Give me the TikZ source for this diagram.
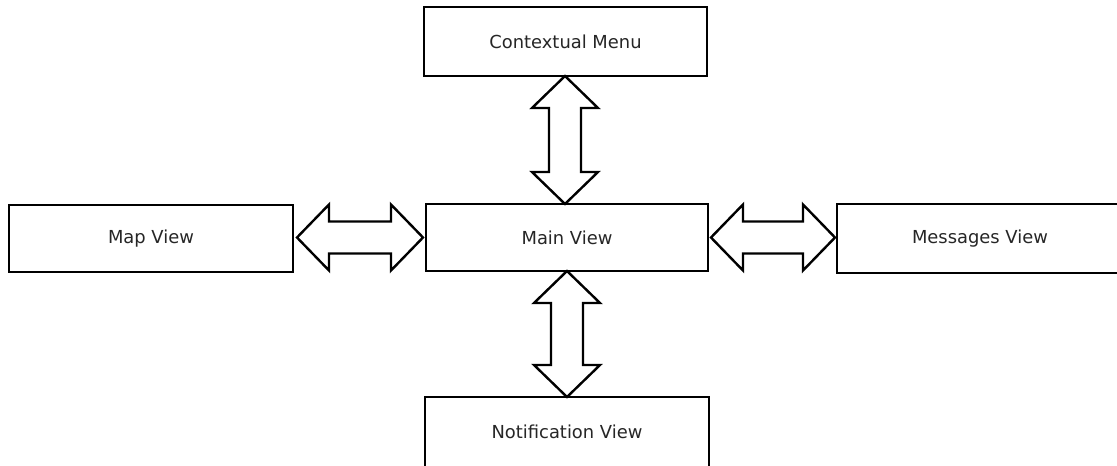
\documentclass[tikz,border=0pt]{standalone}
\usepackage{fontspec}
\setmainfont{DejaVu Sans}
\usetikzlibrary{calc}

\tikzset{
  view/.style={draw=black, line width=2.4pt, fill=white, outer sep=0pt,
    inner sep=0pt, text=black!85,
    font=\fontsize{17.9}{21}\selectfont},
  % hollow double-headed block arrow between two points
  dblarrow/.style={draw=black, line width=2.4pt, line join=miter, fill=white,
    to path={
      ($(\tikztostart)!32pt!(\tikztotarget)$) coordinate (h1)
      ($(\tikztotarget)!32pt!(\tikztostart)$) coordinate (h2)
      (\tikztostart)
      -- ($(h1)!33pt!90:(\tikztotarget)$)
      -- ($(h1)!16pt!90:(\tikztotarget)$)
      -- ($(h2)!16pt!-90:(\tikztostart)$)
      -- ($(h2)!33pt!-90:(\tikztostart)$)
      -- (\tikztotarget)
      -- ($(h2)!33pt!90:(\tikztostart)$)
      -- ($(h2)!16pt!90:(\tikztostart)$)
      -- ($(h1)!16pt!-90:(\tikztotarget)$)
      -- ($(h1)!33pt!-90:(\tikztotarget)$)
      -- cycle
    }}
}

\begin{document}
\begin{tikzpicture}[x=1pt, y=-1pt]
  \useasboundingbox (0,0) rectangle (1117,466);
  \clip (0,0) rectangle (1117,466);

  % boxes
  \node[view, minimum width=283pt, minimum height=69pt] (ctx)   at (565.5,41.5) {Contextual Menu};
  \node[view, minimum width=282pt, minimum height=67pt] (main)  at (567,237.5)  {Main View};
  \node[view, minimum width=284pt, minimum height=67pt] (map)   at (151,238.5)  {Map View};
  \node[view, minimum width=286pt, minimum height=69pt] (msg)   at (980,238.5)  {Messages View};
  \node[view, minimum width=284pt, minimum height=70pt] (notif) at (567,432)    {Notification View};

  % connectors
  \draw[dblarrow] ([xshift=-2pt]main.north |- ctx.south) to ([xshift=-2pt]main.north);
  \draw[dblarrow] (main.south) to (notif.north);
  \draw[dblarrow] ([xshift=4pt]map.east |- main.west) to ([xshift=-3pt]main.west);
  \draw[dblarrow] ([xshift=3pt]main.east) to ([xshift=-2pt]msg.west |- main.east);
\end{tikzpicture}
\end{document}
